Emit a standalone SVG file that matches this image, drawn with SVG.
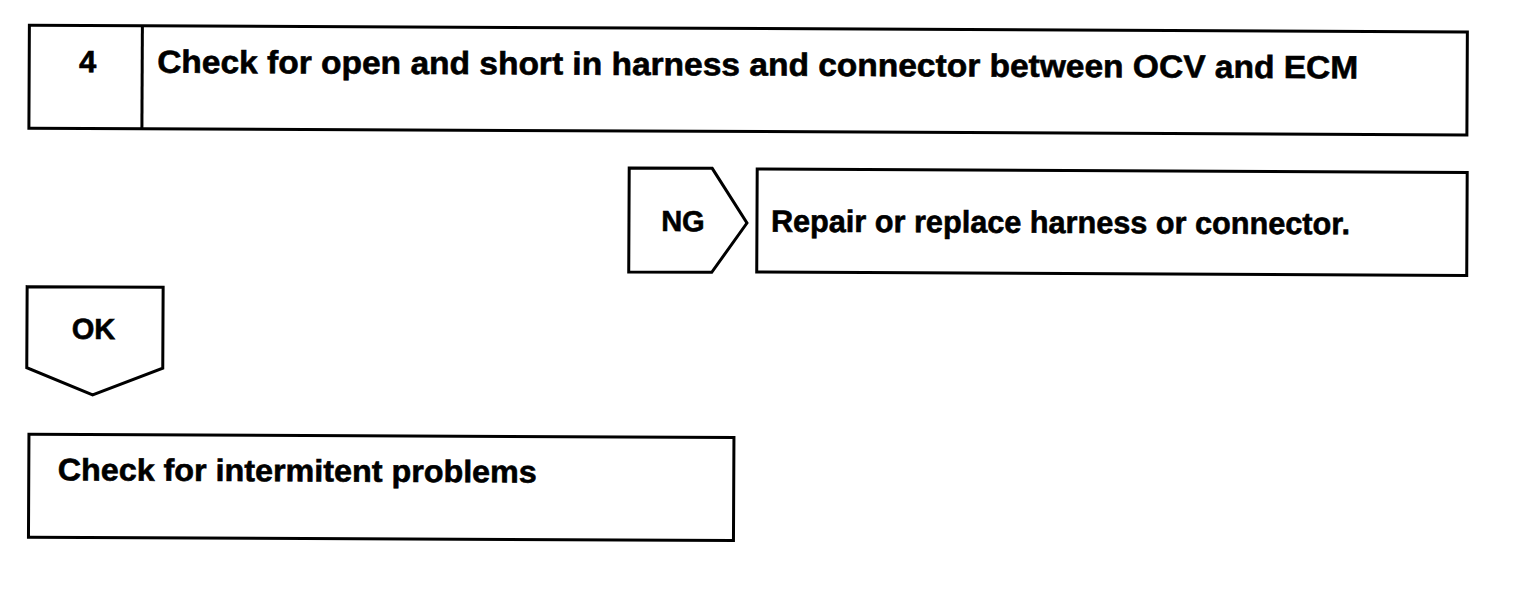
<svg xmlns="http://www.w3.org/2000/svg" width="1536" height="594" viewBox="0 0 1536 594">
<style>
.box{fill:#fff;stroke:#000;stroke-width:3;stroke-linejoin:miter}
.t{font-family:"Liberation Sans",Arial,Helvetica,sans-serif;font-weight:bold;fill:#000;stroke:#000;stroke-width:0.6}
</style>
<rect x="0" y="0" width="1536" height="594" fill="#fff"/>
<g transform="rotate(0.27)">
<g id="step4">
<rect class="box" x="29.5" y="25" width="1438" height="103"/>
<line class="box" x1="142.5" y1="25" x2="142.5" y2="128"/>
<text class="t" x="88" y="72" font-size="31" text-anchor="middle">4</text>
<text class="t" x="157.5" y="72" font-size="32" textLength="1201" lengthAdjust="spacingAndGlyphs">Check for open and short in harness and connector between OCV and ECM</text>
</g>
<g id="connectors">
<g id="ng">
<polygon class="box" points="630,165 713,165 748,219.5 713,269 630,269"/>
<text class="t" x="684" y="228" font-size="29" text-anchor="middle">NG</text>
</g>
<g id="ok">
<polygon class="box" points="28.5,286.5 164.5,286.5 164.5,367.5 94.5,394.5 28.5,367.5"/>
<text class="t" x="95" y="338.5" font-size="29" text-anchor="middle">OK</text>
</g>
</g>
<g id="repair">
<rect class="box" x="758" y="165.5" width="710" height="103"/>
<text class="t" x="772" y="228" font-size="31" textLength="579" lengthAdjust="spacingAndGlyphs">Repair or replace harness or connector.</text>
</g>
<g id="intermittent">
<rect class="box" x="31" y="434" width="705" height="103"/>
<text class="t" x="60" y="480" font-size="31" textLength="479" lengthAdjust="spacingAndGlyphs">Check for intermitent problems</text>
</g>
</g>
</svg>
